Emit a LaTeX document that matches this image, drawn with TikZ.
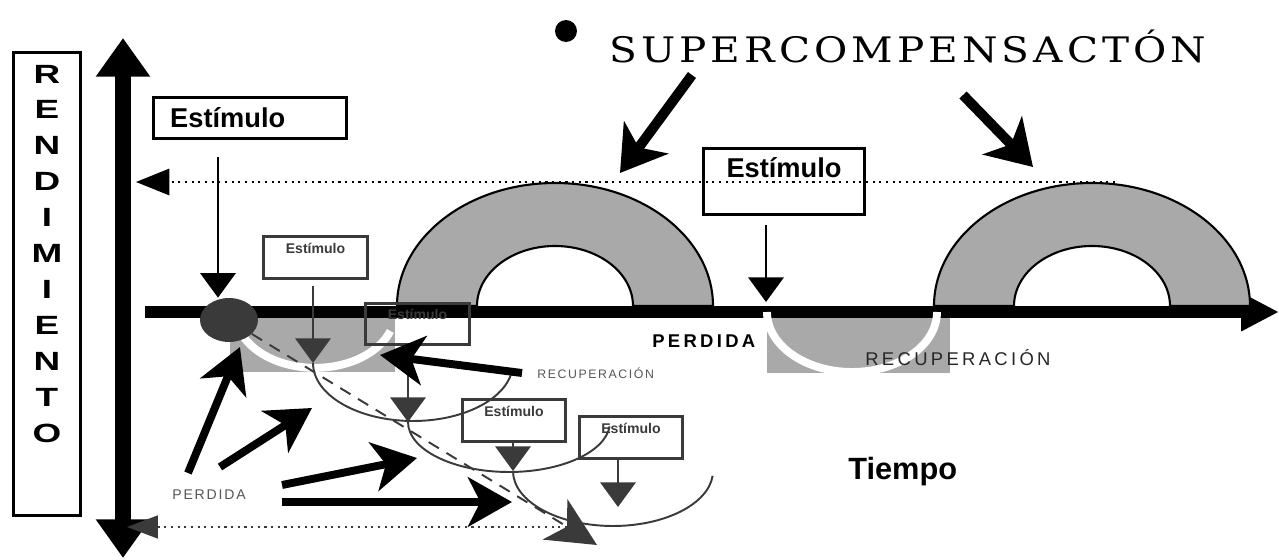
\documentclass[tikz,border=0pt]{standalone}
\usepackage{fontspec}
\setmainfont{Liberation Sans}
\newfontfamily\slabfont[LetterSpace=10]{DejaVu Serif}
\newfontfamily\ancha[LetterSpace=18]{Liberation Sans}
\newfontfamily\anchita[LetterSpace=13]{Liberation Sans}
\usetikzlibrary{arrows.meta,shapes.geometric}
\definecolor{sombra}{HTML}{A9A9A9}
\definecolor{oscuro}{HTML}{3A3A3A}
\definecolor{gris}{HTML}{555555}

\begin{document}
\begin{tikzpicture}[x=0.02cm, y=-0.02cm]
	\tikzstyle{eje} = [line width=6.8pt, -{Triangle[length=21.5pt,width=20.4pt]}];
	\tikzstyle{arco} = [fill=sombra, draw=black, line width=1.2pt];
	\tikzstyle{corte} = [white, line width=4.5pt];
	\tikzstyle{nivel} = [line width=1.2pt, dash pattern=on 1.2pt off 2.6pt, -{Triangle[length=19pt,width=15pt]}];
	\tikzstyle{letra} = [font={\bfseries\fontsize{15}{15}\selectfont}, inner sep=0pt];
	\tikzstyle{caja} = [draw, line width=1.7pt, inner sep=0pt, font={\bfseries\fontsize{15.5}{15.5}\selectfont}];
	\tikzstyle{cajita} = [draw=oscuro, text=oscuro, line width=1.7pt, inner sep=0pt, minimum width=59pt, text height=9.6pt, text depth=14.2pt, font={\bfseries\fontsize{8}{8}\selectfont}];
	\tikzstyle{baja} = [line width=1.7pt, -{Triangle[length=14pt,width=20pt]}];
	\tikzstyle{curva} = [oscuro, line width=1.1pt];
	\tikzstyle{flecha} = [line width=4.5pt, -{Stealth[length=25pt,width=28pt,inset=7pt]}];
	\tikzstyle{rotulo} = [anchor=base west, inner sep=0pt];

	\useasboundingbox (0,0) rectangle (1279,560);

	% perdida y recuperacion
	\fill[sombra] (230,312) rectangle (395,372);
	\fill[sombra] (767,312) rectangle (950,373);

	\coordinate (t0) at (145,312);
	\coordinate (t1) at (1279,312);
	\draw[eje] (t0) -- (t1);

	\coordinate (c1) at (240,331);
	\coordinate (c2) at (767,312);
	\draw[corte] (c1) arc[start angle=160, end angle=20, x radius=80, y radius=56];
	\draw[corte] (c2) arc[start angle=180, end angle=0, x radius=85, y radius=60];

	% supercompensacion
	\foreach \cx in {555,1092} {
		\draw[arco] (\cx-158,306) arc[start angle=180, end angle=360, x radius=158, y radius=123]
			-- (\cx+78,306) arc[start angle=0, end angle=-180, x radius=78, y radius=60] -- cycle;
	}

	\coordinate (n1) at (1115,182);
	\coordinate (n0) at (136,182);
	\draw[nivel] (n1) -- (n0);

	\coordinate (r0) at (123,558);
	\coordinate (r1) at (123,38);
	\draw[line width=9.6pt, {Triangle[length=22pt,width=29.5pt]}-{Triangle[length=22pt,width=29.5pt]}] (r0) -- (r1);

	\coordinate (m1) at (567,527);
	\coordinate (m0) at (127,527);
	\draw[nivel, oscuro, -{Triangle[length=17.6pt,width=13pt]}] (m1) -- (m0);

	\node[draw, line width=1.7pt, minimum width=38.5pt, minimum height=263pt] (rend) at (47,284) {};
	\def \palabra {R,E,N,D,I,M,I,E,N,T,O}
	\foreach \l [count=\i] in \palabra {
		\node[letra] (l\i) at (47,{74+35.9*(\i-1)}) {\scalebox{1.4}[1]{\l}};
	}

	\node[circle, fill=black, minimum size=12.5pt, inner sep=0pt] (punto) at (566,31) {};
	\node[rotulo, font={\slabfont\fontsize{20}{20}\selectfont}] (super) at (609,63) {\scalebox{1.155}[1]{SUPERCOMPENSACTÓN}};

	\node[caja, minimum width=110pt, minimum height=23.8pt, text width=90.8pt, align=left] (e1) at (250,118) {Estímulo};
	\node[caja, minimum width=91.8pt, text height=16.4pt, text depth=21.5pt] (e2) at (784,181.5) {Estímulo};

	\node[ellipse, fill=oscuro, minimum width=33pt, minimum height=25pt, inner sep=0pt] (perd) at (229,320) {};

	\coordinate (p1) at (218,157);
	\draw[baja] (p1) -- (p1 |- perd.north);
	\coordinate (p2) at (766,225);
	\coordinate (q2) at (766,302);
	\draw[baja] (p2) -- (q2);

	\node[cajita] (b1) at (315.5,257.5) {Estímulo};
	\node[cajita] (b2) at (417.5,324) {Estímulo};
	\node[cajita] (b3) at (514,420.5) {Estímulo};
	\node[cajita] (b4) at (631,437.5) {Estímulo};

	\coordinate (s1) at (313,286);  \coordinate (f1) at (313,363);
	\coordinate (s2) at (408,348);  \coordinate (f2) at (408,422);
	\coordinate (s3) at (513,441);  \coordinate (f3) at (513,471);
	\coordinate (s4) at (618,460);  \coordinate (f4) at (618,507);
	\draw[baja, oscuro] (s1) -- (f1);
	\draw[baja, oscuro] (s2) -- (f2);
	\draw[baja, oscuro] (s3) -- (f3);
	\draw[baja, oscuro] (s4) -- (f4);

	\draw[curva] (f1) arc[start angle=180, end angle=10, x radius=100, y radius=58];
	\draw[curva] (f2) arc[start angle=180, end angle=5, x radius=101, y radius=50];
	\draw[curva] (f3) arc[start angle=180, end angle=5, x radius=100, y radius=55];

	\coordinate (fin) at (597,545);
	\draw[curva, dash pattern=on 6.8pt off 5pt, -{Stealth[length=28pt,width=27pt,inset=8pt]}] (perd) -- (fin);

	% flechas gruesas
	\coordinate (a1) at (188,473);  \coordinate (z1) at (240,347);
	\coordinate (a2) at (220,467);  \coordinate (z2) at (312,408);
	\coordinate (a3) at (282,485);  \coordinate (z3) at (417,458);
	\coordinate (a4) at (282,502);  \coordinate (z4) at (512,502);
	\coordinate (a5) at (522,373);  \coordinate (z5) at (380,355);
	\draw[flecha] (a1) -- (z1);
	\draw[flecha] (a2) -- (z2);
	\draw[flecha] (a3) -- (z3);
	\draw[flecha] (a4) -- (z4);
	\draw[flecha] (a5) -- (z5);

	\coordinate (a6) at (692,75);   \coordinate (z6) at (620,173);
	\coordinate (a7) at (963,95);   \coordinate (z7) at (1033,167);
	\draw[flecha, line width=5.7pt, -{Stealth[length=25pt,width=31pt,inset=7pt]}] (a6) -- (z6);
	\draw[flecha, line width=5.7pt, -{Stealth[length=25pt,width=31pt,inset=7pt]}] (a7) -- (z7);

	\node[rotulo, font={\ancha\bfseries\fontsize{10.5}{10.5}\selectfont}] (perdida) at (652,348) {PERDIDA};
	\node[rotulo, text=black!85, font={\ancha\fontsize{10.5}{10.5}\selectfont}] (recup) at (865,366) {RECUPERACIÓN};
	\node[rotulo, text=gris, font={\anchita\fontsize{7}{7}\selectfont}] (recup2) at (537,379) {RECUPERACIÓN};
	\node[rotulo, text=gris, font={\anchita\fontsize{8}{8}\selectfont}] (perdida2) at (172,500) {PERDIDA};
	\node[rotulo, font={\bfseries\fontsize{17.5}{17.5}\selectfont}] (tiempo) at (848,480) {Tiempo};
\end{tikzpicture}
\end{document}
